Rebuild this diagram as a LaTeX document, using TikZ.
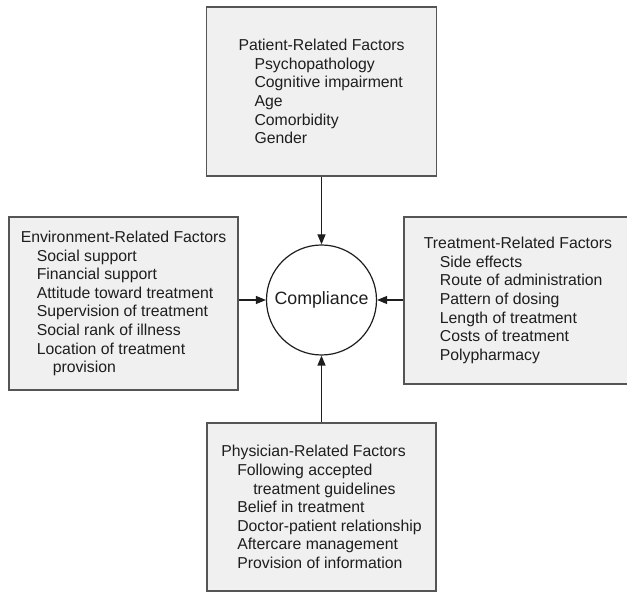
\documentclass[tikz,border=0pt]{standalone}
\usepackage{fontspec}
\setmainfont{Liberation Sans}
\usepackage{tikz}
\usetikzlibrary{arrows.meta}

\definecolor{boxfill}{RGB}{240,240,240}
\definecolor{boxline}{RGB}{85,85,85}
\definecolor{inkgray}{RGB}{30,30,30}
\newcommand{\ind}{\hspace*{16pt}}
\newcommand{\indd}{\hspace*{32pt}}

\tikzset{
  factorbox/.style={draw=boxline, fill=boxfill, line width=1.6pt, align=left,
    inner sep=0pt, text=inkgray, font=\fontsize{15.8}{18.6}\selectfont},
  hub/.style={circle, draw=inkgray, fill=white, line width=1.2pt, inner sep=0pt,
    minimum size=110pt, text=inkgray, font=\fontsize{17.8}{20}\selectfont},
  feed/.style={draw=inkgray, line width=1.2pt, -{Triangle[length=10pt,width=8pt]}}
}

\begin{document}
\begin{tikzpicture}[x=1pt,y=1pt]
    \useasboundingbox (0,0) rectangle (627,592);
    % the four groups of factors
    \node[factorbox, minimum width=230pt, minimum height=169pt] (patient) at (321.5,500.5)
      {Patient-Related Factors\\
       \ind Psychopathology\\
       \ind Cognitive impairment\\
       \ind Age\\
       \ind Comorbidity\\
       \ind Gender};
    \node[factorbox, minimum width=229pt, minimum height=173pt] (environment) at (123.5,288.5)
      {Environment-Related Factors\\
       \ind Social support\\
       \ind Financial support\\
       \ind Attitude toward treatment\\
       \ind Supervision of treatment\\
       \ind Social rank of illness\\
       \ind Location of treatment\\
       \indd provision};
    \node[factorbox, minimum width=228pt, minimum height=167pt] (treatment) at (518,291.5)
      {Treatment-Related Factors\\
       \ind Side effects\\
       \ind Route of administration\\
       \ind Pattern of dosing\\
       \ind Length of treatment\\
       \ind Costs of treatment\\
       \ind Polypharmacy};
    \node[factorbox, minimum width=229pt, minimum height=168pt] (physician) at (321.5,85)
      {Physician-Related Factors\\
       \ind Following accepted\\
       \indd treatment guidelines\\
       \ind Belief in treatment\\
       \ind Doctor-patient relationship\\
       \ind Aftercare management\\
       \ind Provision of information};
    % centre
    \node[hub] (compliance) at (321.5,292) {Compliance};
    % arrows into the centre
    \draw[feed] (patient) -- (compliance);
    \draw[feed] (physician) -- (compliance);
    \draw[feed] (environment.east |- compliance.west) -- (compliance.west);
    \draw[feed] (treatment.west |- compliance.east) -- (compliance.east);
\end{tikzpicture}
\end{document}
